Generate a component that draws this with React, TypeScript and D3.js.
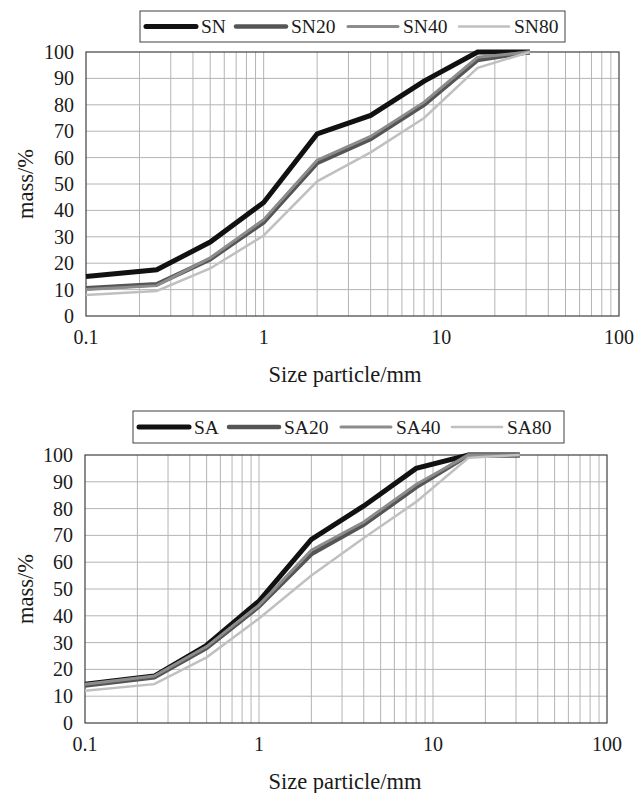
import React from 'react';
import * as d3 from 'd3';

// sieve sizes (mm) and passing mass (%)
const sizes = [0.1, 0.25, 0.5, 1, 2, 4, 8, 16, 31.5];

const SN = [15, 17.5, 28, 43, 69, 76, 89, 100, 100];
const SN20 = [10.5, 12, 21.5, 35.5, 58, 67, 80, 97, 100];
const SN40 = [10, 11.5, 22, 36.5, 59, 68, 81, 98, 100];
const SN80 = [8, 9.5, 18, 30.5, 51, 62, 75, 94, 100];

const SA = [14.5, 17.5, 29, 45.5, 68.5, 81, 95, 100, 100];
const SA20 = [14, 17, 28, 43.5, 63, 74, 88, 100, 100];
const SA40 = [14.5, 17.5, 28.5, 44, 64.5, 75, 89, 100, 100];
const SA80 = [12, 14.5, 24.5, 39, 55, 69, 82.5, 99, 100];

const xTickLabels = ['0.1', '1', '10', '100'];
const yTicks = [0, 10, 20, 30, 40, 50, 60, 70, 80, 90, 100];

const styles = [
  { color: '#111111', width: 5 },
  { color: '#555555', width: 4.5 },
  { color: '#8c8c8c', width: 3 },
  { color: '#c0c0c0', width: 2.5 },
];

const FONT = '"Liberation Serif", "DejaVu Serif", serif';

interface ChartProps {
  top: number;
  left: number;
  right: number;
  bottom: number;
  names: string[];
  series: number[][];
  legendBox: { x: number; y: number; w: number; h: number };
}

const Chart: React.FC<ChartProps> = ({ top, left, right, bottom, names, series, legendBox }) => {
  const x = d3.scaleLog().domain([0.1, 100]).range([left, right]);
  const y = d3.scaleLinear().domain([0, 100]).range([bottom, top]);

  // minor grid for the log axis
  const vGrid: number[] = [];
  [0.1, 1, 10].forEach((d) => {
    for (let k = 2; k <= 9; k++) vGrid.push(d * k);
  });
  vGrid.push(1, 10);

  const line = d3.line<number>()
    .x((_, i) => x(sizes[i]))
    .y((v) => y(v));

  const legendOffsets = [6, 96, 208, 319];

  return (
    <g>
      {vGrid.map((g, i) => (
        <line key={`vg${i}`} x1={x(g)} x2={x(g)} y1={top} y2={bottom} stroke="#b4b4b4" strokeWidth={1} />
      ))}
      {yTicks.slice(1, -1).map((t) => (
        <line key={`hg${t}`} x1={left} x2={right} y1={y(t)} y2={y(t)} stroke="#b4b4b4" strokeWidth={1} />
      ))}
      <rect x={left} y={top} width={right - left} height={bottom - top} fill="none" stroke="#404040" strokeWidth={1.2} />

      {series.map((s, i) => (
        <path
          key={names[i]}
          d={line(s) || ''}
          fill="none"
          stroke={styles[i].color}
          strokeWidth={styles[i].width}
          strokeLinejoin="miter"
        />
      ))}

      <g fontFamily={FONT} fontSize={20} fill="#1a1a1a">
        {yTicks.map((t) => (
          <text key={`yl${t}`} x={left - 12} y={y(t)} dy="0.35em" textAnchor="end">{t}</text>
        ))}
        {xTickLabels.map((l) => (
          <text key={`xl${l}`} x={x(+l)} y={bottom + 21} dy="0.35em" textAnchor="middle">{l}</text>
        ))}
      </g>
      <text x={345} y={bottom + 58} dy="0.35em" textAnchor="middle" fontFamily={FONT} fontSize={22.5} fill="#1a1a1a">
        Size particle/mm
      </text>
      <text
        transform={`translate(25,${(top + bottom) / 2}) rotate(-90)`}
        dy="0.35em"
        textAnchor="middle"
        fontFamily={FONT}
        fontSize={22.5}
        fill="#1a1a1a"
      >
        mass/%
      </text>

      <rect x={legendBox.x} y={legendBox.y} width={legendBox.w} height={legendBox.h} fill="#fff" stroke="#404040" strokeWidth={1} />
      {names.map((n, i) => {
        const lx = legendBox.x + legendOffsets[i];
        const ly = legendBox.y + legendBox.h / 2;
        return (
          <g key={`lg${n}`}>
            <line x1={lx} x2={lx + 50} y1={ly} y2={ly} stroke={styles[i].color} strokeWidth={styles[i].width} strokeLinecap="round" />
            <text x={lx + 55} y={ly} dy="0.35em" fontFamily={FONT} fontSize={19.5} fill="#1a1a1a">{n}</text>
          </g>
        );
      })}
    </g>
  );
};

export default function App() {
  return (
    <svg width={644} height={793} style={{ position: 'absolute', left: 0, top: 0, background: '#fff' }}>
      <Chart
        top={52}
        left={86}
        right={619}
        bottom={316}
        names={['SN', 'SN20', 'SN40', 'SN80']}
        series={[SN, SN20, SN40, SN80]}
        legendBox={{ x: 140, y: 11, w: 425, h: 31 }}
      />
      <Chart
        top={455}
        left={85}
        right={607}
        bottom={723}
        names={['SA', 'SA20', 'SA40', 'SA80']}
        series={[SA, SA20, SA40, SA80]}
        legendBox={{ x: 133, y: 411, w: 431, h: 32 }}
      />
    </svg>
  );
}
